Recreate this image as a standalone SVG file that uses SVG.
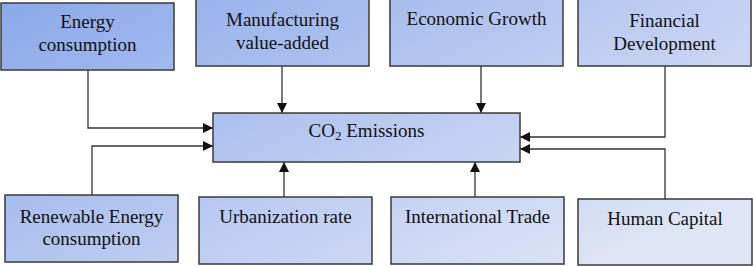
<svg xmlns="http://www.w3.org/2000/svg" width="754" height="266" viewBox="0 0 754 266">
<defs>
<linearGradient id="g" gradientUnits="userSpaceOnUse" x1="0" y1="0" x2="238" y2="466">
<stop offset="0" stop-color="#8ca8ea"/>
<stop offset="1" stop-color="#e0e6f6"/>
</linearGradient>
<marker id="ah" viewBox="0 0 10 10" refX="10" refY="5" markerWidth="10" markerHeight="10" markerUnits="userSpaceOnUse" orient="auto">
<path d="M0,0 L10,5 L0,10 z" fill="#111"/>
</marker>
</defs>
<style>
.box{fill:url(#g);stroke:#3a3a3a;stroke-width:1.5}
.t{font-family:"Liberation Serif","Times New Roman",serif;font-size:19px;fill:#111;text-anchor:middle}
.c{fill:none;stroke:#333;stroke-width:1.3;marker-end:url(#ah)}
</style>
<g id="connectors">
<path class="c" d="M88,70 V128 H213"/>
<path class="c" d="M282,66 V113"/>
<path class="c" d="M481,66 V113"/>
<path class="c" d="M665,66 V137 H520"/>
<path class="c" d="M92,195 V146 H213"/>
<path class="c" d="M284,197 V162"/>
<path class="c" d="M475,197 V162"/>
<path class="c" d="M665,199 V149 H520"/>
</g>
<g id="energy">
<rect class="box" x="1" y="3" width="173" height="67"/>
<text class="t" x="87.5" y="28">Energy</text>
<text class="t" x="87.5" y="51">consumption</text>
</g>
<g id="manufacturing">
<rect class="box" x="196" y="-1" width="173" height="67"/>
<text class="t" x="282.5" y="26">Manufacturing</text>
<text class="t" x="282.5" y="49">value-added</text>
</g>
<g id="growth">
<rect class="box" x="390" y="-1" width="173" height="67"/>
<text class="t" x="476.5" y="25">Economic Growth</text>
</g>
<g id="financial">
<rect class="box" x="578" y="-1" width="173" height="67"/>
<text class="t" x="664.5" y="27">Financial</text>
<text class="t" x="664.5" y="50">Development</text>
</g>
<g id="co2">
<rect class="box" x="213" y="113" width="307" height="49"/>
<text class="t" x="366.5" y="137">CO<tspan font-size="13" dy="3">2</tspan><tspan dy="-3"> Emissions</tspan></text>
</g>
<g id="renewable">
<rect class="box" x="5" y="195" width="173" height="67"/>
<text class="t" x="91.5" y="223">Renewable Energy</text>
<text class="t" x="91.5" y="245">consumption</text>
</g>
<g id="urbanization">
<rect class="box" x="199" y="197" width="173" height="67"/>
<text class="t" x="285.5" y="223">Urbanization rate</text>
</g>
<g id="trade">
<rect class="box" x="391" y="197" width="173" height="67"/>
<text class="t" x="477.5" y="223">International Trade</text>
</g>
<g id="human">
<rect class="box" x="578" y="199" width="174" height="66"/>
<text class="t" x="665" y="225">Human Capital</text>
</g>
</svg>
